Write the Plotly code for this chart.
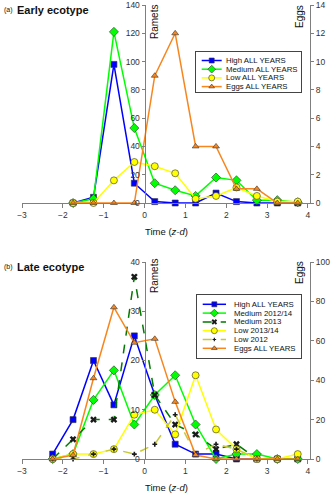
import plotly.graph_objects as go

# ---------------- data ----------------
x_a = [-1.75, -1.25, -0.75, -0.25, 0.25, 0.75, 1.25, 1.75, 2.25, 2.75, 3.25, 3.75]
a_high = [0, 4, 98, 14, 1, 0, 0, 7, 1, 0, 0, 0]
a_medium = [0, 3, 121, 53, 14, 9, 5, 18, 16, 2, 2, 0.5]
a_low = [0, 0, 16, 29, 26, 21, 3, 5, 11, 5, 1, 1]
a_eggs = [0, 0, 0, 0, 9, 12, 4, 4, 1, 1, 0, 0]

x_b = [-2.25, -1.75, -1.25, -0.75, -0.25, 0.25, 0.75, 1.25, 1.75, 2.25, 2.75, 3.25, 3.75]
b_high = [1, 8, 20, 11, 25, 13, 3, 1, 1, 0, 0, 0, 0]
b_medium_1214 = [0, 1, 12, 18, 7, 13, 17, 7, 0, 1, 1, 0, 0]
b_medium_2013 = [0, 4, 8, 8, 37, 13, 7, 5, 2, 3, 0, 0, None]
b_low_1314 = [0, 1, 1, 2, 9, 10, 5, 17, 6, 2, 0, 0, 1]
b_low_2012 = [0, 0, 1, 2, 1, 3, 9, 1, 3, 2, 0, None, None]
b_eggs = [0, 2, 41, 77, 59, 61, 29, 2, 0, 0, 0, 0, 0]

x_ticks = [-3, -2, -1, 0, 1, 2, 3, 4]
a_ramet_ticks = [0, 20, 40, 60, 80, 100, 120, 140]
a_egg_ticks = [0, 2, 4, 6, 8, 10, 12, 14]
b_ramet_ticks = [0, 10, 20, 30, 40]
b_egg_ticks = [0, 20, 40, 60, 80, 100]

FONT = "Liberation Sans, Arial, sans-serif"
AXC = "#7f7f7f"
TXC = "#333333"
EDGE = "#333333"

# style per series: (name, color, dash, symbol, size, marker color)
S_HIGH = ("High ALL YEARS", "#0000FF", "solid", "square", 6, "#0000FF")
S_MED = ("Medium ALL YEARS", "#00FF00", "solid", "diamond", 7, "#00FF00")
S_LOW = ("Low ALL YEARS", "#FFFF00", "solid", "circle", 7, "#FFFF00")
S_EGG = ("Eggs ALL YEARS", "#F7861E", "solid", "triangle-up", 6, "#F7861E")
S_MED12 = ("Medium 2012/14", "#00FF00", "solid", "diamond", 7, "#00FF00")
S_MED13 = ("Medium 2013", "#007A00", "dash", "x", 6, "#1a1a1a")
S_LOW13 = ("Low 2013/14", "#FFFF00", "solid", "circle", 7, "#FFFF00")
S_LOW12 = ("Low 2012", "#C8C83C", "dash", "cross", 4, "#1a1a1a")
S_EGGB = ("Eggs ALL YEARS", "#F7861E", "solid", "triangle-up", 6, "#F7861E")

fig = go.Figure()


def add_series(x, y, style, xa, ya):
    name, col, dash, sym, size, mcol = style
    lw = 0.6 if sym not in ("x", "cross") else 0
    fig.add_trace(go.Scatter(
        x=x, y=y, xaxis=xa, yaxis=ya, mode="lines+markers", name=name,
        showlegend=False, cliponaxis=False, connectgaps=False,
        line=dict(color=col, width=1.5, dash=dash),
        marker=dict(symbol=sym, size=size, color=mcol,
                    line=dict(color=EDGE, width=lw))))


# panel (a)
add_series(x_a, a_high, S_HIGH, "x", "y")
add_series(x_a, a_medium, S_MED, "x", "y")
add_series(x_a, a_low, S_LOW, "x", "y")
add_series(x_a, a_eggs, S_EGG, "x", "y2")
# panel (b)
add_series(x_b, b_high, S_HIGH, "x2", "y3")
add_series(x_b, b_medium_1214, S_MED12, "x2", "y3")
add_series(x_b, b_medium_2013, S_MED13, "x2", "y3")
add_series(x_b, b_low_1314, S_LOW13, "x2", "y3")
add_series(x_b, b_low_2012, S_LOW12, "x2", "y3")
add_series(x_b, b_eggs, S_EGGB, "x2", "y4")

# ---------------- custom compact legends ----------------
def add_legend(styles, xa, ya, line_x0, line_x1, text_x, y0, dy):
    for i, st in enumerate(styles):
        name, col, dash, sym, size, mcol = st
        yy = y0 + dy * i
        fig.add_trace(go.Scatter(x=[line_x0, line_x1], y=[yy, yy], xaxis=xa, yaxis=ya,
                                 mode="lines", showlegend=False, hoverinfo="skip",
                                 line=dict(color=col, width=1.5, dash=dash)))
        lw = 0.6 if sym not in ("x", "cross") else 0
        fig.add_trace(go.Scatter(x=[(line_x0 + line_x1) / 2], y=[yy], xaxis=xa, yaxis=ya,
                                 mode="markers", showlegend=False, hoverinfo="skip",
                                 marker=dict(symbol=sym, size=size - 1, color=mcol,
                                             line=dict(color=EDGE, width=lw))))
        fig.add_annotation(x=text_x, y=yy, xref=xa, yref=ya, text=name, showarrow=False,
                           xanchor="left", yanchor="middle",
                           font=dict(family=FONT, size=7.8, color="#111"))


add_legend([S_HIGH, S_MED, S_LOW, S_EGG], "x3", "y5", 5.7, 25.7, 28, 8.5, 8.7)
add_legend([S_HIGH, S_MED12, S_MED13, S_LOW13, S_LOW12, S_EGGB], "x4", "y6",
           5.7, 29, 35, 9.3, 8.8)

# ---------------- layout ----------------
W, H = 331, 495
L, R, T, B = 22, 21, 5, 36
PW, PH = W - L - R, H - T - B


def px_x(p):
    return (p - L) / PW


def px_y(p):
    return (H - B - p) / PH


XR = [-3, 4.05]
zero_pos = (0 - XR[0]) / (XR[1] - XR[0])
top_dom = [px_y(203), 1.0]
bot_dom = [0.0, px_y(262)]

xcommon = dict(range=XR, tickvals=x_ticks, showgrid=False, zeroline=False,
               showline=True, linecolor=AXC, linewidth=1, ticks="outside",
               ticklen=4, tickcolor=AXC, ticklabeloverflow="allow",
               tickfont=dict(family=FONT, size=8.5, color=TXC))
ycommon = dict(showgrid=False, zeroline=False, showline=True, linecolor=AXC,
               linewidth=1, ticks="outside", ticklen=3, tickcolor=AXC,
               ticklabeloverflow="allow",
               tickfont=dict(family=FONT, size=8.5, color=TXC))

leg_axis = dict(showgrid=False, zeroline=False, showticklabels=False, ticks="",
                showline=True, mirror=True, linecolor="#444", linewidth=1)

EPS = 1e-6
fig.update_layout(
    width=W, height=H, margin=dict(l=L, r=R, t=T, b=B, autoexpand=False),
    paper_bgcolor="white", plot_bgcolor="rgba(0,0,0,0)", showlegend=False,
    xaxis=dict(domain=[0, 1], anchor="y", **xcommon),
    yaxis=dict(domain=top_dom, range=[0, 140 + EPS], tickvals=a_ramet_ticks, anchor="free",
               position=zero_pos, side="left", **ycommon),
    yaxis2=dict(range=[0, 14 + EPS], tickvals=a_egg_ticks, overlaying="y", side="right",
                anchor="x", **ycommon),
    xaxis2=dict(domain=[0, 1], anchor="y3", **xcommon),
    yaxis3=dict(domain=bot_dom, range=[0, 40 + EPS], tickvals=b_ramet_ticks, anchor="free",
                position=zero_pos, side="left", **ycommon),
    yaxis4=dict(range=[0, 100 + EPS], tickvals=b_egg_ticks, overlaying="y3", side="right",
                anchor="x2", **ycommon),
    xaxis3=dict(domain=[px_x(196), px_x(301)], range=[0, 105], anchor="y5", **leg_axis),
    yaxis5=dict(domain=[px_y(92), px_y(52)], range=[40, 0], anchor="x3", **leg_axis),
    xaxis4=dict(domain=[px_x(197), px_x(301)], range=[0, 104], anchor="y6", **leg_axis),
    yaxis6=dict(domain=[px_y(358), px_y(295)], range=[63, 0], anchor="x4", **leg_axis),
)

# ---------------- text annotations ----------------
def ann(text, xp, yp, size, angle=0, xanchor="center", bold=False):
    fig.add_annotation(text=f"<b>{text}</b>" if bold else text, x=px_x(xp), y=px_y(yp),
                       xref="paper", yref="paper", showarrow=False, textangle=angle,
                       xanchor=xanchor, yanchor="middle",
                       font=dict(family=FONT, size=size, color="#111"))


ann("(a)", 2, 10, 7, xanchor="left")
ann("Early ecotype", 15, 10, 11, xanchor="left", bold=True)
ann("(b)", 2, 267, 7, xanchor="left")
ann("Late ecotype", 15, 267, 11, xanchor="left", bold=True)
ann("Ramets", 155, 22, 10, angle=-90)
ann("Eggs", 300, 17, 10, angle=-90)
ann("Ramets", 154, 276, 10, angle=-90)
ann("Eggs", 300, 273, 10, angle=-90)
ann("Time (<i>z-d</i>)", 166, 231, 9.5)
ann("Time (<i>z-d</i>)", 166, 487, 9.5)

fig.write_html("out.html")
